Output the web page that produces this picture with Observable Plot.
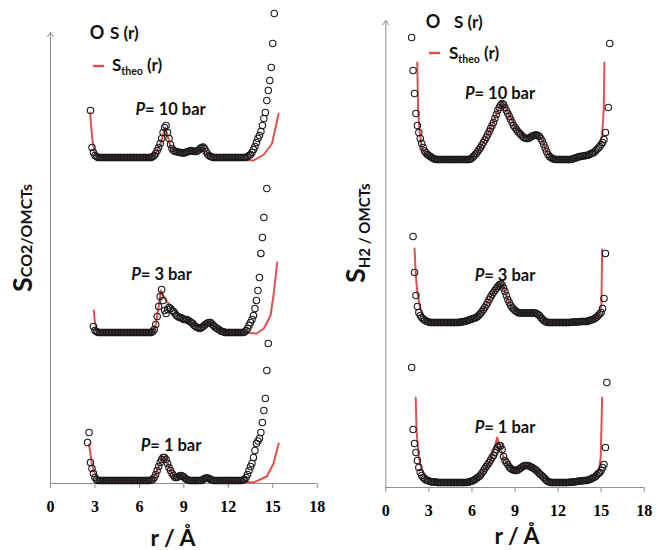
<!DOCTYPE html>
<html>
<head>
<meta charset="utf-8">
<script src="https://cdn.jsdelivr.net/npm/d3@7"></script>
<script src="https://cdn.jsdelivr.net/npm/@observablehq/plot@0.6"></script>
<style>
  html, body { margin: 0; padding: 0; background: white; }
  #wrap { display: flex; width: 664px; height: 550px; }
</style>
</head>
<body>
<div id="wrap"></div>
<script>
// ---------------- DATA ----------------
const pressures = [1, 3, 10];
const xTicks = [0, 3, 6, 9, 12, 15, 18];

// r grid (Å) of the measured S(r) points, CO2 panel
const rCO2 = [
  2.5,2.6,2.7,2.8,2.9,3.0,3.1,3.2,3.3,3.4,
  3.5,3.6,3.7,3.8,3.9,4.0,4.1,4.2,4.3,4.4,
  4.5,4.6,4.7,4.8,4.9,5.0,5.1,5.2,5.3,5.4,
  5.5,5.6,5.7,5.8,5.9,6.0,6.1,6.2,6.3,6.4,
  6.5,6.6,6.7,6.8,6.9,7.0,7.1,7.2,7.3,7.4,
  7.5,7.6,7.7,7.8,7.9,8.0,8.1,8.2,8.3,8.4,
  8.5,8.6,8.7,8.8,8.9,9.0,9.1,9.2,9.3,9.4,
  9.5,9.6,9.7,9.8,9.9,10.0,10.1,10.2,10.3,10.4,
  10.5,10.6,10.7,10.8,10.9,11.0,11.1,11.2,11.3,11.4,
  11.5,11.6,11.7,11.8,11.9,12.0,12.1,12.2,12.3,12.4,
  12.5,12.6,12.7,12.8,12.9,13.0,13.1,13.2,13.3,13.4,
  13.5,13.6,13.7,13.8,13.9,14.0,14.1,14.2,14.3,14.4,
  14.5,14.6,14.7,14.8,14.9,15.0,15.1,15.2
];
// S(r) above each curve's baseline, CO2/OMCTs
const sCO2_1bar = [
  3.8,4.8,1.8,1.2,0.7,0.3,0.1,0,0,0,
  0,0,0,0,0,0,0,0,0,0,
  0,0,0,0,0,0,0,0,0,0,
  0,0,0,0,0,0,0,0,0,0,
  0,0,0,0.05,0.1,0.3,0.6,1.0,1.4,1.8,
  2.1,2.3,2.3,2.1,1.7,1.3,1.0,0.7,0.5,0.3,
  0.3,0.35,0.45,0.5,0.45,0.35,0.2,0.1,0.05,0,
  0,0,0,0,0,0,0,0,0.1,0.2,
  0.25,0.25,0.2,0.1,0.05,0,0,0,0,0,
  0,0,0,0,0,0,0,0,0,0,
  0,0,0,0,0,0.05,0.1,0.3,0.6,1.0,
  1.4,1.7,2.3,3.0,3.7,3.95,4.2,4.8,5.8,7.0,
  8.2,11.0,13.7,null,null,null,null,null
];
const sCO2_3bar = [
  null,null,null,null,0.6,0.2,0.1,0,0,0,
  0,0,0,0,0,0,0,0,0,0,
  0,0,0,0,0,0,0,0,0,0,
  0,0,0,0,0,0,0,0,0,0,
  0,0,0,0,0.1,0.3,0.8,1.6,2.6,3.6,
  4.3,3.2,2.2,1.9,2.3,2.5,2.4,2.2,2.1,1.9,
  1.7,1.6,1.5,1.5,1.4,1.3,1.3,1.3,1.2,1.1,
  1.0,0.9,0.7,0.6,0.5,0.45,0.4,0.5,0.6,0.75,
  0.85,0.95,1.0,1.0,0.85,0.7,0.55,0.45,0.35,0.25,
  0.15,0.1,0.05,0,0,0,0,0,0,0,
  0,0,0,0,0,0,0.05,0.2,0.4,0.7,
  1.0,1.3,1.7,2.4,3.2,4.2,5.5,7.9,9.5,11.5,
  null,14.4,null,null,null,null,null,null
];
const sCO2_10bar = [
  null,null,4.7,1.0,0.5,0.2,0.1,0,0,0,
  0,0,0,0,0,0,0,0,0,0,
  0,0,0,0,0,0,0,0,0,0,
  0,0,0,0,0,0,0,0,0,0,
  0,0,0,0,0.1,0.2,0.4,0.7,1.0,1.4,
  1.9,2.5,3.0,3.2,2.5,1.9,1.3,0.9,0.7,0.6,
  0.6,0.55,0.5,0.5,0.45,0.45,0.5,0.55,0.6,0.65,
  0.7,0.65,0.6,0.6,0.65,0.75,0.9,1.0,1.05,0.9,
  0.6,0.35,0.2,0.1,0.05,0,0,0,0,0,
  0,0,0,0,0,0,0,0,0,0,
  0,0,0,0,0,0,0,0,0.1,0.2,
  0.3,0.5,0.8,1.1,1.5,1.9,2.2,2.6,3.2,3.9,
  4.5,5.7,6.7,7.7,9.0,11.4,14.4,null
];
// S_theo(r), CO2 panel
const theoCO2_1bar_r = [2.6,2.8,3.0,3.2,3.4,6.8,7.1,7.4,7.65,7.9,8.2,8.5,8.8,9.1,9.4,10.2,10.55,10.9,13.7,14.3,14.6,15.05,15.4];
const theoCO2_1bar_s = [3.6,1.6,0.7,0.1,0,0,0.6,1.8,2.35,1.7,0.7,0.3,0.45,0.2,0,0,0.25,0.05,-0.2,0.2,0.4,1.7,3.7];
const theoCO2_3bar_r = [2.92,3.0,3.1,3.3,6.9,7.1,7.3,7.45,7.6,7.9,8.2,8.6,9.2,9.6,10.0,10.4,10.8,11.2,11.8,13.0,13.9,14.4,14.85,15.05,15.3];
const theoCO2_3bar_s = [2.2,1.0,0.3,0,0,0.8,2.6,4.2,3.7,3.0,2.6,1.8,1.3,0.9,0.5,0.8,1.0,0.45,0,0,-0.1,0.4,1.7,3.7,7.0];
const theoCO2_10bar_r = [2.68,2.75,2.85,3.0,3.2,3.5,6.8,7.1,7.4,7.6,7.75,7.9,8.1,8.3,8.8,9.5,9.8,10.3,10.6,10.9,11.2,13.7,14.4,14.95,15.4];
const theoCO2_10bar_s = [4.5,3.0,1.5,0.5,0.1,0,0,0.4,1.3,2.3,3.0,2.2,1.1,0.7,0.5,0.7,0.6,1.05,0.35,0.05,0,-0.3,0.3,1.4,4.4];
// vertical offsets of the three curves (1, 3, 10 bar)
const offsetCO2 = [0.3, 15.1, 32.6];

// r grid of the measured S(r) points, H2 panel
const rH2 = [
  1.8,1.9,2.0,2.1,2.2,2.3,2.4,2.5,2.6,2.7,
  2.8,2.9,3.0,3.1,3.2,3.3,3.4,3.5,3.6,3.7,
  3.8,3.9,4.0,4.1,4.2,4.3,4.4,4.5,4.6,4.7,
  4.8,4.9,5.0,5.1,5.2,5.3,5.4,5.5,5.6,5.7,
  5.8,5.9,6.0,6.1,6.2,6.3,6.4,6.5,6.6,6.7,
  6.8,6.9,7.0,7.1,7.2,7.3,7.4,7.5,7.6,7.7,
  7.8,7.9,8.0,8.1,8.2,8.3,8.4,8.5,8.6,8.7,
  8.8,8.9,9.0,9.1,9.2,9.3,9.4,9.5,9.6,9.7,
  9.8,9.9,10.0,10.1,10.2,10.3,10.4,10.5,10.6,10.7,
  10.8,10.9,11.0,11.1,11.2,11.3,11.4,11.5,11.6,11.7,
  11.8,11.9,12.0,12.1,12.2,12.3,12.4,12.5,12.6,12.7,
  12.8,12.9,13.0,13.1,13.2,13.3,13.4,13.5,13.6,13.7,
  13.8,13.9,14.0,14.1,14.2,14.3,14.4,14.5,14.6,14.7,
  14.8,14.9,15.0,15.1,15.2,15.3,15.4,15.5,15.6
];
const sH2_1bar = [
  11.5,5.3,3.9,3.0,2.2,1.5,1.0,0.7,0.5,0.35,
  0.25,0.2,0.15,0.1,0.05,0.05,0.05,0.05,0,0,
  0,0,0,0,0,0,0,0,0,0,
  0,0,0,0,0,0,0,0,0,0.02,
  0.05,0.1,0.15,0.2,0.3,0.4,0.5,0.6,0.75,0.95,
  1.15,1.4,1.6,1.8,2.0,2.25,2.5,2.7,3.0,3.3,
  3.55,3.7,3.65,3.3,2.6,2.2,2.0,1.8,1.55,1.4,
  1.3,1.25,1.2,1.2,1.25,1.35,1.45,1.55,1.65,1.7,
  1.7,1.7,1.65,1.55,1.5,1.4,1.3,1.2,1.05,0.9,
  0.75,0.65,0.5,0.35,0.2,0.1,0.05,0,0,0,
  0,0,0,0,0,0,0,0,0,0,
  0.02,0.03,0.05,0.06,0.08,0.1,0.12,0.14,0.16,0.18,
  0.19,0.2,0.2,0.25,0.3,0.35,0.45,0.5,0.6,0.75,
  0.9,1.0,1.2,1.5,1.8,3.5,10.0,null,null
];
const sH2_3bar = [
  null,8.6,5.0,2.7,1.6,1.0,0.7,0.5,0.35,0.25,
  0.15,0.1,0.05,0,0,0,0,0,0,0,
  0,0,0,0,0,0,0,0,0,0,
  0,0,0,0,0.05,0.05,0.1,0.1,0.15,0.2,
  0.25,0.3,0.35,0.4,0.45,0.5,0.6,0.75,0.9,1.1,
  1.3,1.5,1.75,2.0,2.3,2.55,2.8,3.0,3.2,3.4,
  3.6,3.75,3.85,3.75,3.45,3.1,2.7,2.3,2.0,1.7,
  1.5,1.35,1.2,1.1,1.0,0.95,0.95,0.95,0.95,0.95,
  0.95,0.95,0.95,0.95,0.95,0.95,0.95,0.9,0.8,0.7,
  0.5,0.35,0.2,0.1,0.05,0,0,0,0,0,
  0,0,0,0,0,0,0,0,0,0,
  0,0.02,0.03,0.04,0.05,0.06,0.07,0.08,0.09,0.1,
  0.1,0.1,0.1,0.15,0.2,0.25,0.3,0.35,0.45,0.55,
  0.7,0.85,1.0,1.4,2.4,6.9,null,null,null
];
const sH2_10bar = [
  12.2,8.9,6.6,4.6,3.4,2.7,2.1,1.6,1.2,0.85,
  0.65,0.5,0.4,0.3,0.2,0.1,0.05,0,0,0,
  0,0,0,0,0,0,0,0,0,0,
  0,0,0,0,0,0,0,0,0,0,
  0,0.05,0.15,0.3,0.45,0.6,0.8,1.0,1.2,1.45,
  1.7,1.95,2.2,2.5,2.8,3.1,3.4,3.7,4.1,4.5,
  4.9,5.2,5.45,5.6,5.5,5.2,4.9,4.6,4.3,4.0,
  3.7,3.4,3.2,3.0,2.8,2.65,2.5,2.35,2.2,2.15,
  2.1,2.1,2.15,2.25,2.35,2.4,2.45,2.45,2.4,2.3,
  2.1,1.85,1.5,1.15,0.8,0.5,0.3,0.2,0.1,0.05,
  0,0,0,0,0,0,0,0,0,0,
  0,0,0.05,0.1,0.15,0.2,0.25,0.3,0.3,0.35,
  0.35,0.4,0.4,0.45,0.5,0.6,0.65,0.7,0.85,1.0,
  1.15,1.3,1.5,1.7,2.0,2.7,null,5.2,11.6
];
const theoH2_1bar_r = [2.08,2.15,2.3,2.5,2.65,3.0,3.4,4.0,5.8,6.6,7.0,7.3,7.5,7.65,7.76,7.9,8.0,8.2,8.5,8.8,9.1,9.5,9.8,10.2,10.6,11.0,11.4,12.8,14.0,14.5,14.85,14.97,15.07];
const theoH2_1bar_s = [8.5,5.0,2.5,1.3,0.9,0.4,0.15,0,0,0.7,1.5,2.2,3.2,3.9,4.5,3.9,3.4,2.5,1.8,1.3,1.2,1.55,1.7,1.5,1.05,0.5,0.05,0,0.15,0.4,1.2,2.5,8.5];
const theoH2_3bar_r = [2.0,2.1,2.2,2.4,2.6,2.9,3.3,5.2,6.0,6.5,6.9,7.3,7.6,8.0,8.2,8.5,8.8,9.2,9.5,10.4,10.7,11.0,11.3,13.5,14.2,14.6,14.9,15.02,15.07];
const theoH2_3bar_s = [7.4,4.5,3.0,1.4,0.7,0.2,0,0,0.35,0.8,1.5,2.55,3.2,3.9,3.5,2.3,1.5,1.0,0.95,0.95,0.7,0.2,0,0,0.2,0.5,1.0,1.8,7.3];
const theoH2_10bar_r = [2.19,2.25,2.35,2.5,2.8,3.2,3.6,5.8,6.3,6.8,7.2,7.6,7.9,8.1,8.3,8.6,9.0,9.4,9.8,10.2,10.6,10.9,11.2,11.5,11.8,13.0,13.8,14.5,14.95,15.07,15.18,15.23];
const theoH2_10bar_s = [9.7,5.0,2.8,1.3,0.5,0.15,0,0,0.6,1.7,2.8,4.1,5.2,5.7,5.3,4.4,3.3,2.6,2.2,2.4,2.5,1.9,0.8,0.2,0,0,0.3,1.0,1.7,2.4,5.0,9.7];
const offsetH2 = [0.5, 16.5, 32.8];

// annotation anchors for the "P = ... bar" labels (data units)
const labelCO2_r = [8.17, 7.53, 8.14];
const labelCO2_y = [3.8, 20.9, 37.4];
const labelH2_r = [8.34, 8.34, 7.99];
const labelH2_y = [6.0, 21.2, 39.4];

// ---------------- DRAW ----------------
const RED = "#e05050";
const AXIS = "#8c8c8c";
const SANS = "Lato, 'Open Sans', sans-serif";
const SERIF = "'Liberation Serif', 'DejaVu Serif', serif";

function dotsOf(rs, series, offsets) {
  const out = [];
  series.forEach((s, k) => s.forEach((v, i) => {
    if (v != null) out.push({r: rs[i], y: offsets[k] + v, p: pressures[k]});
  }));
  return out;
}
function linesOf(rsList, ssList, offsets) {
  const out = [];
  rsList.forEach((rs, k) => rs.forEach((r, i) => out.push({r, y: offsets[k] + ssList[k][i], p: pressures[k]})));
  return out;
}

function panel(cfg) {
  const yMax = cfg.yMax;
  const chart = Plot.plot({
    width: 332, height: 550,
    marginLeft: cfg.ml, marginRight: cfg.mr, marginTop: cfg.mt, marginBottom: cfg.mb,
    style: {background: "white", overflow: "visible"},
    x: {domain: [0, 18]},
    y: {domain: [0, yMax], axis: null},
    marks: [
      Plot.ruleY([0], {stroke: AXIS, strokeWidth: 1}),
      Plot.axisX({ticks: xTicks, tickFormat: d => String(d), tickSize: 5, tickPadding: 12,
        fontSize: 16, fontWeight: "bold", fontFamily: SERIF,
        stroke: AXIS, fill: "black", label: null}),
      Plot.arrow([0], {x1: 0, x2: 0, y1: 0, y2: yMax, stroke: AXIS, strokeWidth: 1, headLength: 8, headAngle: 70}),
      Plot.line(cfg.lines, {x: "r", y: "y", z: "p", stroke: RED, strokeWidth: 2}),
      Plot.dot(cfg.dots, {x: "r", y: "y", r: 3.2, stroke: "#1a1a1a", strokeWidth: 1.1, fill: "none"})
    ]
  });
  const svg = d3.select(chart);
  const xs = chart.scale("x"), ys = chart.scale("y");
  svg.selectAll('g[aria-label="x-axis tick label"] text')
     .attr("font-weight", "bold").attr("font-size", 16).style("font-family", SERIF);

  // P labels
  pressures.forEach((p, k) => {
    const t = svg.append("text")
      .attr("x", xs.apply(cfg.labelR[k])).attr("y", ys.apply(cfg.labelY[k]))
      .attr("dy", "0.36em").attr("text-anchor", "middle")
      .attr("font-family", SANS).attr("font-weight", "bold").attr("font-size", 16.5).attr("fill", "#111");
    t.append("tspan").attr("font-style", "italic").text("P");
    t.append("tspan").text("= " + p + " bar");
  });

  // legend
  const L = cfg.legend;
  svg.append("text").attr("x", L.ox).attr("y", L.oy).attr("text-anchor", "middle")
     .attr("font-family", SANS).attr("font-size", 18).attr("font-weight", "bold").attr("fill", "#111").text("O");
  svg.append("text").attr("x", L.sx).attr("y", L.oy).attr("text-anchor", "start")
     .attr("font-family", SANS).attr("font-size", 17).attr("font-weight", "bold").attr("fill", "#111").text("S (r)");
  svg.append("line").attr("x1", L.lx1).attr("x2", L.lx2).attr("y1", L.ly).attr("y2", L.ly)
     .attr("stroke", RED).attr("stroke-width", 2.5);
  const tt = svg.append("text").attr("x", L.tx).attr("y", L.ty).attr("text-anchor", "start")
     .attr("font-family", SANS).attr("font-size", 17).attr("font-weight", "bold").attr("fill", "#111");
  tt.append("tspan").text("S");
  tt.append("tspan").attr("font-size", 10.5).attr("dy", 4).text("theo");
  tt.append("tspan").attr("dy", -4).text(" (r)");

  // y label
  const yl = svg.append("text").attr("transform", `translate(${cfg.ylx},${cfg.yly}) rotate(-90)`)
     .attr("text-anchor", "start")
     .attr("font-family", SANS).attr("font-weight", "bold").attr("fill", "#111");
  yl.append("tspan").attr("font-size", 27).text("S");
  yl.append("tspan").attr("font-size", cfg.subSize).attr("dy", cfg.subDy).text(cfg.sub);

  // x label
  svg.append("text").attr("x", cfg.xlx).attr("y", cfg.xly).attr("text-anchor", "middle")
     .attr("font-family", SANS).attr("font-weight", "bold").attr("font-size", 23).attr("fill", "#111")
     .text("r / Å");
  return chart;
}

const wrap = document.getElementById("wrap");
wrap.appendChild(panel({
  ml: 50, mr: 15.3, mt: 32, mb: 67, yMax: 45.1,
  dots: dotsOf(rCO2, [sCO2_1bar, sCO2_3bar, sCO2_10bar], offsetCO2),
  lines: linesOf([theoCO2_1bar_r, theoCO2_3bar_r, theoCO2_10bar_r], [theoCO2_1bar_s, theoCO2_3bar_s, theoCO2_10bar_s], offsetCO2),
  labelR: labelCO2_r, labelY: labelCO2_y,
  legend: {ox: 97, oy: 38.5, sx: 110, lx1: 93, lx2: 104, ly: 66, tx: 112, ty: 71},
  ylx: 31.5, yly: 292, sub: "CO2/OMCTs", subSize: 16, subDy: 0,
  xlx: 173, xly: 546
}));
wrap.appendChild(panel({
  ml: 53.3, mr: 20.3, mt: 20, mb: 63, yMax: 46.7,
  dots: dotsOf(rH2, [sH2_1bar, sH2_3bar, sH2_10bar], offsetH2),
  lines: linesOf([theoH2_1bar_r, theoH2_3bar_r, theoH2_10bar_r], [theoH2_1bar_s, theoH2_3bar_s, theoH2_10bar_s], offsetH2),
  labelR: labelH2_r, labelY: labelH2_y,
  legend: {ox: 101, oy: 28, sx: 122, lx1: 97, lx2: 108, ly: 53, tx: 117, ty: 59},
  ylx: 33, yly: 283, sub: "H2 / OMCTs", subSize: 15, subDy: 5,
  xlx: 185, xly: 544
}));
</script>
</body>
</html>
